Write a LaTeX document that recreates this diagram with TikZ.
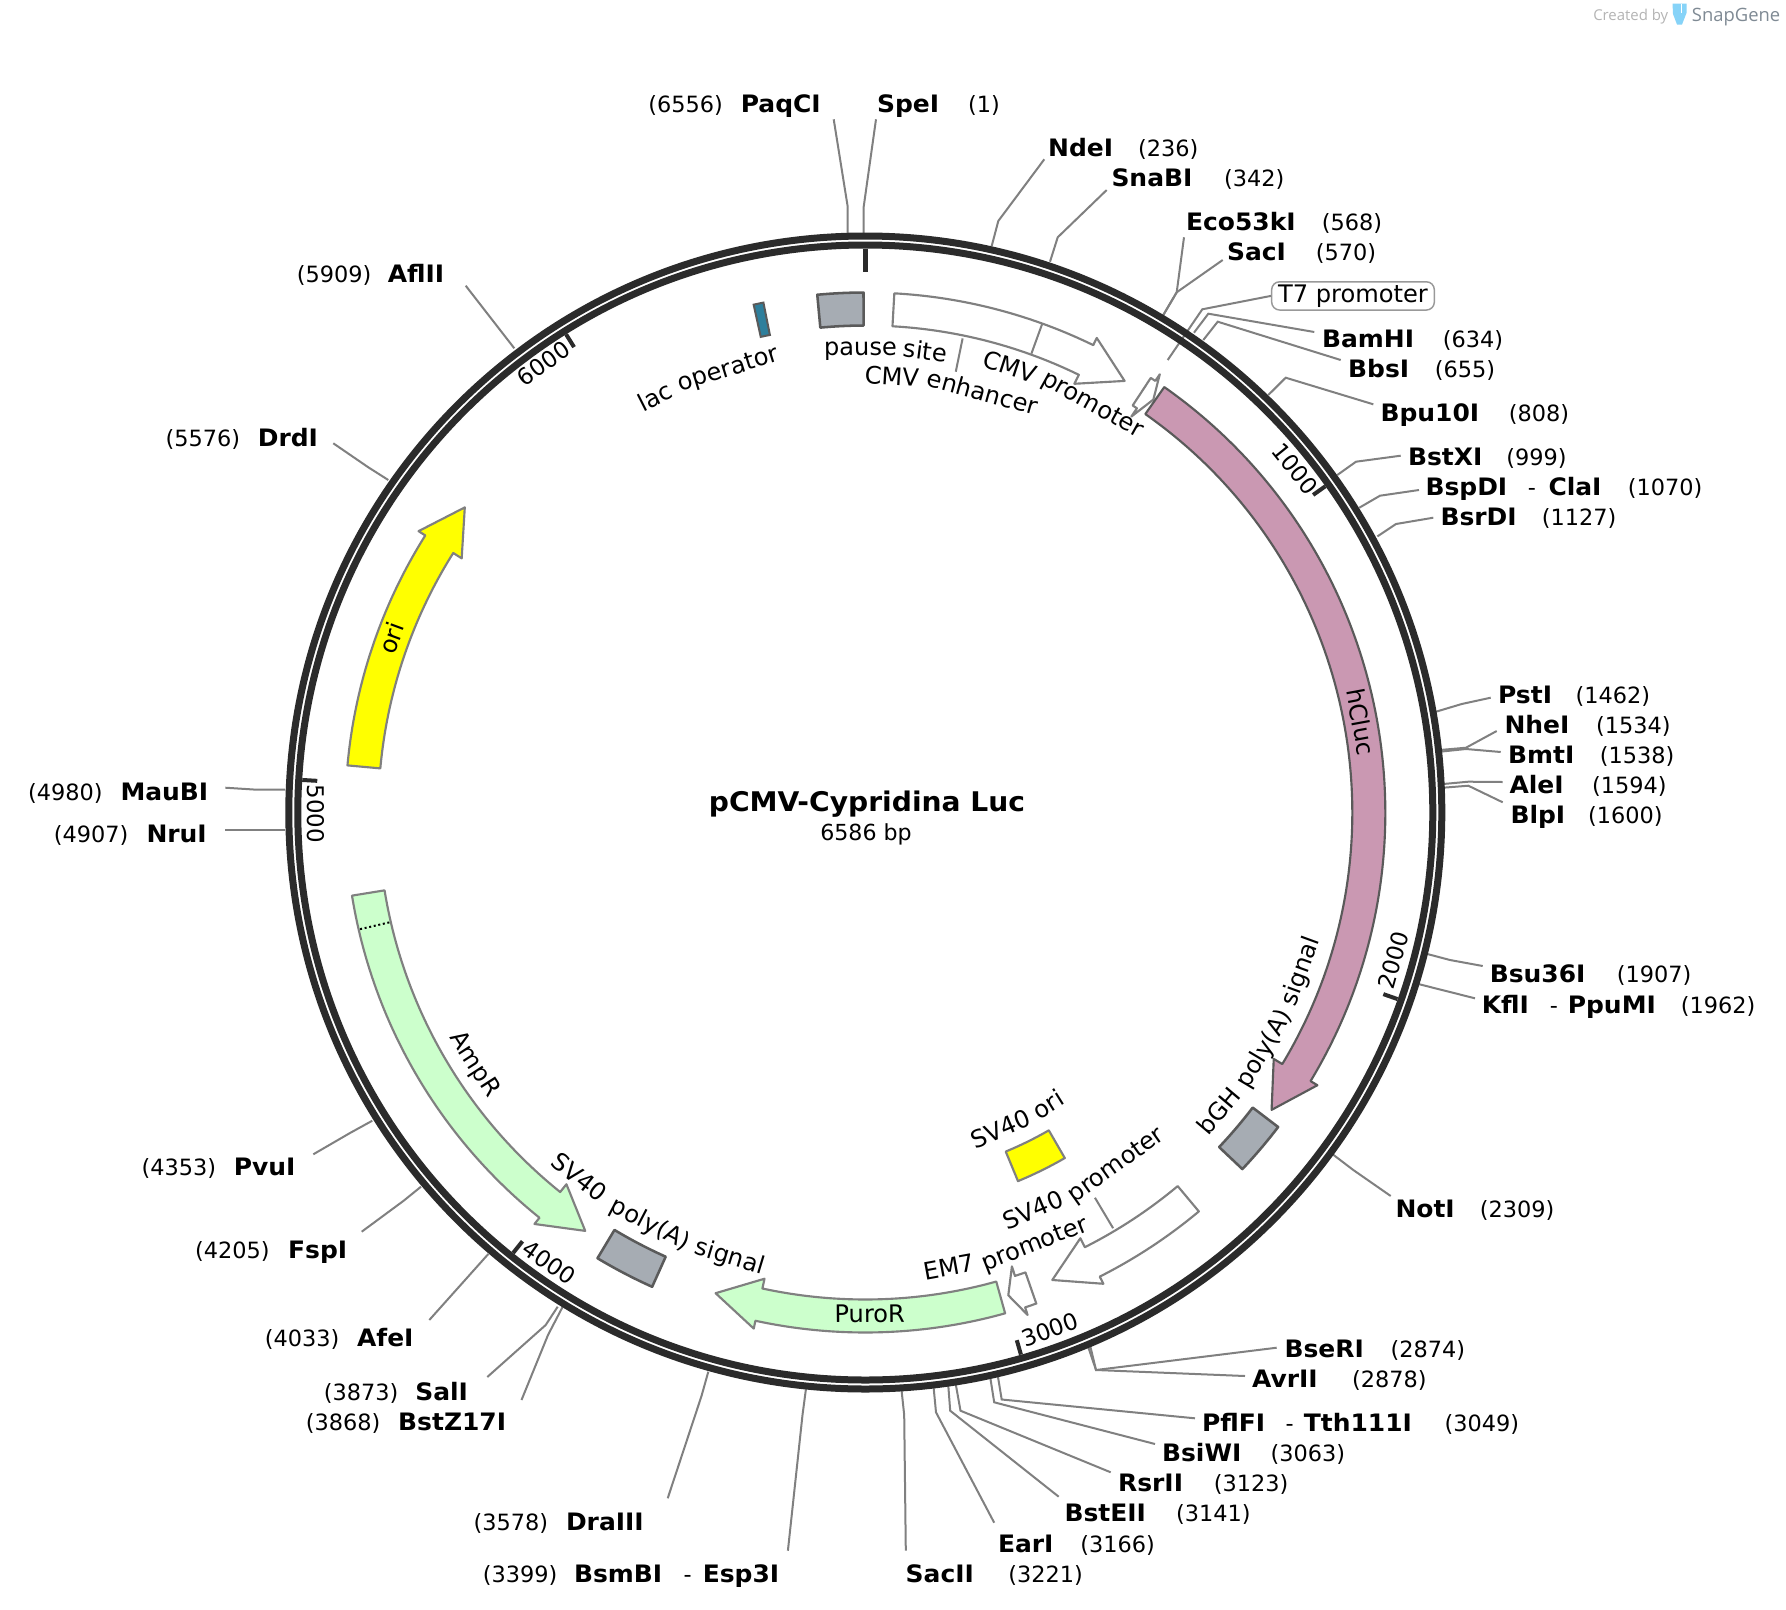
\documentclass[tikz,border=0pt]{standalone}
\usepackage{fontspec}
\setmainfont{DejaVu Sans}[BoldFeatures={FakeStretch=1.04}]
\newfontfamily\markfont{Open Sans}

\definecolor{ringgrey}{HTML}{2B2B2B}
\definecolor{leadgrey}{HTML}{808080}
\definecolor{edgegrey}{HTML}{5A5A5A}
\definecolor{boxgrey}{HTML}{A6ACB3}
\definecolor{lucpink}{HTML}{CA98B2}
\definecolor{resgreen}{HTML}{CCFFCC}
\definecolor{oriyellow}{HTML}{FFFF00}
\definecolor{laqteal}{HTML}{2E7F9C}
\definecolor{tubeblue}{HTML}{86D3F8}
\definecolor{markgrey}{HTML}{B4B4B4}
\definecolor{genegrey}{HTML}{7F8A94}

\newcommand{\featfont}{\fontsize{18.1}{20}\selectfont}

\tikzset{
	enzname/.style={font=\bfseries\fontsize{18}{20}\selectfont,anchor=base west,inner sep=0pt,xshift=-1.1pt,yshift=-0.5pt},
	enznum/.style={font=\fontsize{16.8}{20}\selectfont,anchor=base west,inner sep=0pt,xshift=-1pt,yshift=-0.5pt},
	ticknum/.style={font=\fontsize{17.2}{20}\selectfont,inner sep=0pt},
	featname/.style={font=\featfont,anchor=base,inner sep=0pt},
	leadline/.style={draw=leadgrey,line width=1.5pt},
	openarrow/.style={draw=leadgrey,fill=white,line width=1.6pt,line join=round},
	pinkarrow/.style={draw=edgegrey,fill=lucpink,line width=1.6pt,line join=round},
	greenarrow/.style={draw=leadgrey,fill=resgreen,line width=1.6pt,line join=round},
	yellowarrow/.style={draw=leadgrey,fill=oriyellow,line width=1.6pt,line join=round},
	greybox/.style={draw=edgegrey,fill=boxgrey,line width=1.9pt,line join=round},
}

% one restriction site: id, name, x, y, number, number x
\newcommand{\enz}[6]{%
	\node[enzname] (#1) at (#3,#4) {#2};
	\node[enznum] (#1-num) at (#6,#4) {#5};
}
% leader line of a site: id, ring end, elbow, label end
\newcommand{\cutline}[7]{%
	\coordinate (#1-a) at (#2,#3);
	\coordinate (#1-b) at (#4,#5);
	\coordinate (#1-c) at (#6,#7);
	\draw[leadline] (#1-a) -- (#1-b) -- (#1-c);
}
% feature arrow: style, start, head base, tip (clock degrees)
\newcommand{\featarrow}[4]{%
	\draw[#1] (#2-90:520) arc[start angle=#2-90,end angle=#3-90,radius=520]
		-- (#3-90:528) -- (#4-90:503.5) -- (#3-90:477) -- (#3-90:487)
		arc[start angle=#3-90,end angle=#2-90,radius=487] -- cycle;
}
% feature box: style, from, to, inner radius, outer radius
\newcommand{\featbox}[5]{%
	\draw[#1] (#2-90:#5) arc[start angle=#2-90,end angle=#3-90,radius=#5]
		-- (#3-90:#4) arc[start angle=#3-90,end angle=#2-90,radius=#4] -- cycle;
}
% word of a feature name on the circle: id, radius, angle, text
\newcommand{\cwword}[4]{%
	\node[featname,rotate={0-(#3)}] (#1) at (#3-90:#2) {#4};
}
\newcommand{\ccwword}[4]{%
	\node[featname,rotate={180-(#3)}] (#1) at (#3-90:#2) {#4};
}

\begin{document}
\begin{tikzpicture}[x=0.75pt,y=-0.75pt]
	\path[use as bounding box,fill=white] (0,0) rectangle (1786,1610);

	% watermark
	\node[font=\markfont\fontsize{11.2}{13}\selectfont,text=markgrey,inner sep=0pt,anchor=base west] (createdby) at (1593,20.7) {Created by};
	\node[font=\markfont\fontsize{13.8}{18}\selectfont,text=genegrey,inner sep=0pt,anchor=base west] (snapgene) at (1691.7,21) {SnapGene};
	\fill[tubeblue] (1672.5,3.5) -- (1686.5,3.5) -- (1686.5,13) -- (1682,24.5) -- (1677,24.5) -- (1673,14) -- cycle;
	\fill[white] (1680.5,3.5) rectangle (1682,13);

	% restriction sites, clockwise
	\enz{spei}{SpeI}{878.3}{111.7}{(1)}{969.3}
	\cutline{spei}{863.7}{233}{863.7}{206.7}{876}{119.3}
	\enz{ndei}{NdeI}{1049.3}{156}{(236)}{1139.3}
	\cutline{ndei}{991.7}{246}{998.3}{221}{1044.3}{159.3}
	\enz{snabi}{SnaBI}{1112.7}{186}{(342)}{1225.3}
	\cutline{snabi}{1050}{261.7}{1057.7}{237.3}{1106.7}{190}
	\enz{eco}{Eco53kI}{1187.3}{230}{(568)}{1323}
	\cutline{eco}{1163.3}{315}{1176.7}{292.3}{1184}{237.3}
	\enz{saci}{SacI}{1228.3}{260}{(570)}{1317}
	\cutline{saci}{1163.3}{315}{1176.7}{292.3}{1222.7}{260}
	\enz{bamhi}{BamHI}{1323.3}{347.3}{(634)}{1444}
	\cutline{bamhi}{1194}{332.7}{1208.3}{313.7}{1314.3}{332}
	\enz{bbsi}{BbsI}{1349.3}{377.3}{(655)}{1436}
	\cutline{bbsi}{1203.3}{340}{1217.7}{321.7}{1340.7}{360}
	\enz{bpu}{Bpu10I}{1381.7}{421}{(808)}{1510}
	\cutline{bpu}{1268.3}{395}{1285.7}{377.7}{1373.3}{404.3}
	\enz{bstxi}{BstXI}{1409.3}{465}{(999)}{1507.5}
	\cutline{bstxi}{1337.3}{475}{1356}{461.7}{1400.7}{455.7}
	\enz{bspdi}{BspDI}{1426.7}{495}{(1070)}{1629}
	\node[enznum] (bspdi-dash) at (1529,495) {-};
	\node[enzname] (clai) at (1549.7,495) {ClaI};
	\cutline{bspdi}{1359.3}{507.7}{1380}{495.7}{1419}{490}
	\enz{bsrdi}{BsrDI}{1441.7}{525}{(1127)}{1543}
	\cutline{bsrdi}{1377.4}{536.4}{1396}{524}{1433.3}{517.7}
	\enz{psti}{PstI}{1499.3}{703.3}{(1462)}{1576.7}
	\cutline{psti}{1436}{711.7}{1461.7}{704}{1490.7}{697.7}
	\enz{nhei}{NheI}{1505.7}{733.3}{(1534)}{1597.3}
	\cutline{nhei}{1440}{750}{1466}{747.7}{1496.7}{731}
	\enz{bmti}{BmtI}{1509.3}{763.3}{(1538)}{1601}
	\cutline{bmti}{1440}{751.7}{1466}{749}{1500.7}{752}
	\enz{alei}{AleI}{1510.7}{793.3}{(1594)}{1593.3}
	\cutline{alei}{1443.3}{784}{1468.3}{781.7}{1502.7}{782}
	\enz{blpi}{BlpI}{1511.7}{823.3}{(1600)}{1589.3}
	\cutline{blpi}{1443.3}{787.7}{1468.3}{785.7}{1502.7}{802.3}
	\enz{bsu}{Bsu36I}{1491}{982}{(1907)}{1618}
	\cutline{bsu}{1427.3}{954}{1450}{960}{1482.7}{966}
	\enz{kfli}{KflI}{1483}{1013}{(1962)}{1682}
	\node[enznum] (kfli-dash) at (1551,1013) {-};
	\node[enzname] (ppumi) at (1569,1013) {PpuMI};
	\cutline{kfli}{1418.3}{984}{1446}{991}{1475}{998.3}
	\enz{noti}{NotI}{1396.7}{1217.3}{(2309)}{1481}
	\cutline{noti}{1332.3}{1154}{1353.3}{1170}{1390.7}{1196}
	\enz{bseri}{BseRI}{1285.7}{1357.3}{(2874)}{1391.7}
	\cutline{bseri}{1088.3}{1347.3}{1096}{1370}{1276.7}{1347.7}
	\enz{avrii}{AvrII}{1253.3}{1387.3}{(2878)}{1353.3}
	\cutline{avrii}{1090.3}{1346.3}{1096}{1370}{1245}{1376}
	\enz{pflfi}{PflFI}{1203.3}{1431}{(3049)}{1445.7}
	\node[enznum] (pflfi-dash) at (1286.7,1431) {-};
	\node[enzname] (tth) at (1305,1431) {Tth111I};
	\cutline{pflfi}{998}{1377}{1001.7}{1399.5}{1195}{1418.3}
	\enz{bsiwi}{BsiWI}{1163.3}{1461.3}{(3063)}{1271.7}
	\cutline{bsiwi}{990.4}{1378.3}{994.2}{1402.3}{1155}{1444}
	\enz{rsrii}{RsrII}{1119.3}{1491.3}{(3123)}{1215}
	\cutline{rsrii}{955.9}{1385}{960.5}{1410.7}{1110.7}{1472.3}
	\enz{bsteii}{BstEII}{1065.7}{1521.3}{(3141)}{1177.3}
	\cutline{bsteii}{948.3}{1385.7}{950.2}{1410.7}{1058.7}{1496.7}
	\enz{eari}{EarI}{999.2}{1551.7}{(3166)}{1081.4}
	\cutline{eari}{933.7}{1388.3}{936}{1412.3}{994.2}{1522.7}
	\enz{sacii}{SacII}{906.9}{1581.7}{(3221)}{1009.5}
	\cutline{sacii}{901.6}{1390.7}{904.2}{1415}{905.8}{1550.7}
	\enz{bsmbi}{BsmBI}{575.2}{1581.7}{(3399)}{483.9}
	\node[enznum] (bsmbi-dash) at (684.7,1581.7) {-};
	\node[enzname] (esp) at (704,1581.7) {Esp3I};
	\cutline{bsmbi}{805.9}{1389.3}{802.5}{1415}{787.9}{1550.7}
	\enz{draiii}{DraIII}{567.2}{1530}{(3578)}{474.7}
	\cutline{draiii}{708.3}{1371.7}{701.5}{1396}{667.7}{1498.3}
	\enz{bstz}{BstZ17I}{399.4}{1429.5}{(3868)}{307}
	\cutline{bstz}{562.7}{1306.7}{548}{1335}{521.5}{1400}
	\enz{sali}{SalI}{416.5}{1399.5}{(3873)}{325}
	\cutline{sali}{557.7}{1306.7}{545.7}{1325}{487.3}{1377}
	\enz{afei}{AfeI}{358.3}{1345.5}{(4033)}{266}
	\cutline{afei}{488.3}{1254}{470}{1274.5}{429.3}{1320}
	\enz{fspi}{FspI}{289.3}{1257.7}{(4205)}{196.3}
	\cutline{fspi}{421}{1186.7}{403.3}{1201}{361.7}{1231.7}
	\enz{pvui}{PvuI}{235}{1174.5}{(4353)}{142.6}
	\cutline{pvui}{372.3}{1120.7}{350}{1133}{313.3}{1154.3}
	\enz{nrui}{NruI}{147.7}{841.7}{(4907)}{55}
	\cutline{nrui}{285}{829.7}{256.7}{829.7}{225.3}{829.7}
	\enz{maubi}{MauBI}{121.7}{800}{(4980)}{29.3}
	\cutline{maubi}{285}{789.7}{256.7}{789.7}{225.3}{787.7}
	\enz{drdi}{DrdI}{259}{446}{(5576)}{166.6}
	\cutline{drdi}{388.3}{480}{368.3}{467.3}{333.3}{443.3}
	\enz{aflii}{AflII}{389}{281.7}{(5909)}{297.9}
	\cutline{aflii}{514.3}{348.3}{490}{317}{465.7}{285.7}
	\enz{paqci}{PaqCI}{742}{111.7}{(6556)}{649.5}
	\cutline{paqci}{847.7}{233}{847.7}{206.7}{833.7}{119.3}

	% T7 promoter, its label sits in a box
	\node[draw=leadgrey!80,rounded corners=6pt,line width=1.1pt,inner sep=0pt,minimum width=122pt,minimum height=21.2pt,font=\featfont] (t7) at (1353,295.9) {\raisebox{-1pt}{T7 promoter}};
	\coordinate (t7-a) at (1167.7,360);
	\coordinate (t7-b) at (1202.3,309.3);
	\draw[leadline] (t7-a) -- (t7-b) -- (t7.west);

	\begin{scope}[shift={(865.3,812.5)}]
		% backbone
		\draw[ringgrey,line width=5.25pt] (0,0) circle[radius=576.5];
		\draw[ringgrey,line width=5.25pt] (0,0) circle[radius=567.5];
		\draw[ringgrey,line width=3.75pt] (-90:564) -- (-90:541);
		\foreach \mark/\posn/\turn in {1000/{(430,-344)}/-51,2000/{(528,147.5)}/74.4,3000/{(184.7,516.8)}/19.7,4000/{(-316,450.2)}/-35,5000/{(-549,1.5)}/-90,6000/{(-322,-449.2)}/35.6} {
			\draw[ringgrey,line width=3pt] ({\mark/6586*360-90}:564) -- ({\mark/6586*360-90}:549);
			\node[ticknum,rotate=\turn] (tick\mark) at \posn {\mark};
		}

		% features
		\featbox{greybox}{-5.3}{-0.2}{487}{520}
		\featbox{draw=edgegrey,fill=laqteal,line width=1.5pt}{-12.4}{-11.3}{487}{520}
		\featarrow{openarrow}{3.2}{26}{31}
		\draw[leadline] (19.9-90:488) -- (19.9-90:520);
		\draw[leadline] (11.6-90:450) -- (11.6-90:484);
		\featarrow{openarrow}{33.3}{33.9}{34.9}
		\featarrow{pinkarrow}{35.1}{121.1}{126.2}
		\featbox{greybox}{127.3}{133.4}{487}{519}
		\featbox{yellowarrow}{150}{157.5}{367}{399}
		\featarrow{openarrow}{140.1}{153.2}{158.2}
		\draw[leadline] (149.2-90:448.5) -- (149.2-90:484);
		\featarrow{openarrow}{160.8}{162.1}{163.5}
		\featarrow{greenarrow}{164.4}{192.2}{197.3}
		\featbox{greybox}{204.2}{211}{487}{520}
		\featarrow{greenarrow}{260.8}{218.8}{213.8}
		\draw[black,line width=1.5pt,dotted] (257-90:488.5) -- (257-90:521);
		\featarrow{yellowarrow}{275.2}{302.2}{307.3}

		% feature names, word by word round the circle
		\cwword{lac}{457}{-26.8}{lac}
		\cwword{lacop}{457}{-17.2}{operator}
		\cwword{pause}{457}{-0.6}{pause}
		\cwword{pausesite}{457}{7.4}{site}
		\cwword{enh}{428}{3.5}{CMV}
		\cwword{enhword}{428}{15.6}{enhancer}
		\cwword{cmv}{460}{18.03}{CMV}
		\cwword{cmvprom}{460}{29.1}{promoter}
		\cwword{hcluc}{495}{79.6}{hCluc}
		\ccwword{bgh}{471}{130.15}{bGH}
		\ccwword{bghpoly}{471}{120.68}{poly(A)}
		\ccwword{bghsig}{471}{110.03}{signal}
		\ccwword{sv}{440}{157.11}{SV40}
		\ccwword{svprom}{440}{144.58}{promoter}
		\ccwword{svo}{353}{156.9}{SV40}
		\ccwword{svori}{353}{147.94}{ori}
		\ccwword{em}{471}{169.6}{EM7}
		\ccwword{emprom}{471}{158.56}{promoter}
		\ccwword{puro}{510}{179.5}{PuroR}
		\ccwword{pa}{472}{218.1}{SV40}
		\ccwword{papoly}{472}{207.55}{poly(A)}
		\ccwword{pasig}{472}{196.92}{signal}
		\ccwword{amp}{472}{237.2}{AmpR}
		\cwword{ori}{496}{290.2}{ori}
	\end{scope}

	% centre title
	\node[font=\bfseries\fontsize{20.3}{24}\selectfont,inner sep=0pt] (title) at (867,804) {pCMV-Cypridina Luc};
	\node[font=\fontsize{16.6}{20}\selectfont,inner sep=0pt] (size) at (866,834) {6586 bp};
\end{tikzpicture}
\end{document}
